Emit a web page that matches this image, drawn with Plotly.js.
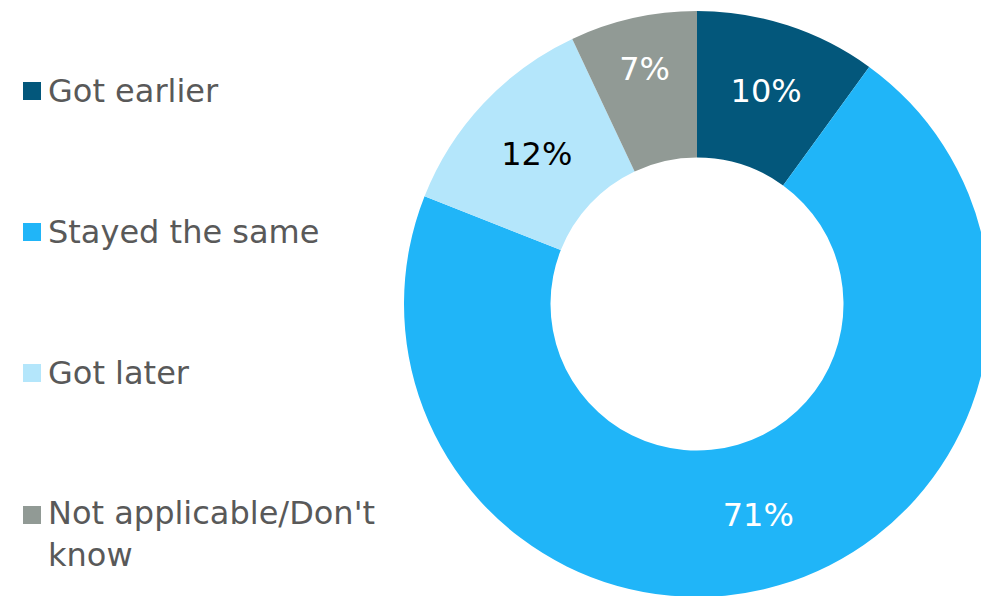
<!DOCTYPE html>
<html>
<head>
<meta charset="utf-8">
<script src="https://cdn.plot.ly/plotly-3.0.1.min.js"></script>
<style>
html,body{margin:0;padding:0;overflow:hidden;background:#fff;}
#chart{width:1000px;height:620px;}
</style>
</head>
<body>
<div id="chart"></div>
<script>
const categories = ["Got earlier", "Stayed the same", "Got later", "Not applicable/Don't know"];
const legendLabels = ["Got earlier", "Stayed the same", "Got later", "Not applicable/Don't<br>know"];
const values = [10, 71, 12, 7];
const colors = ["#03577B", "#20B5F8", "#B4E6FB", "#919A95"];
const labelColors = ["#FFFFFF", "#FFFFFF", "#000000", "#FFFFFF"];

const W = 1000, H = 620;
const FONT = "DejaVu Sans, Verdana, sans-serif";

const trace = {
  type: "pie",
  labels: categories,
  values: values,
  hole: 0.5,
  sort: false,
  direction: "clockwise",
  rotation: 0,
  marker: {colors: colors, line: {width: 0}},
  texttemplate: "%{value}%",
  textposition: "inside",
  insidetextorientation: "horizontal",
  textfont: {family: FONT, size: 32, color: labelColors},
  hoverinfo: "none",
  showlegend: false,
  domain: {x: [404 / W, 990 / W], y: [1 - 597 / H, 1 - 11 / H]}
};

const legendY = [91, 232, 373, 515];
const annotations = [];
const shapes = [];
legendLabels.forEach((lab, i) => {
  const twoLine = lab.indexOf("<br>") >= 0;
  annotations.push({
    xref: "paper", yref: "paper",
    x: 46 / W, xanchor: "left",
    y: 1 - (twoLine ? legendY[i] + 19 : legendY[i]) / H, yanchor: "middle",
    text: lab, showarrow: false, align: "left",
    font: {family: FONT, size: 32, color: "#595959"}
  });
  shapes.push({
    type: "rect", xref: "paper", yref: "paper",
    x0: 23 / W, x1: 41 / W,
    y0: 1 - (legendY[i] - 9) / H, y1: 1 - (legendY[i] + 9) / H,
    fillcolor: colors[i], line: {width: 0}
  });
});

const layout = {
  width: W, height: H,
  margin: {l: 0, r: 0, t: 0, b: 0},
  paper_bgcolor: "#ffffff",
  showlegend: false,
  annotations: annotations,
  shapes: shapes
};

Plotly.newPlot("chart", [trace], layout, {displayModeBar: false, staticPlot: true});
</script>
</body>
</html>
